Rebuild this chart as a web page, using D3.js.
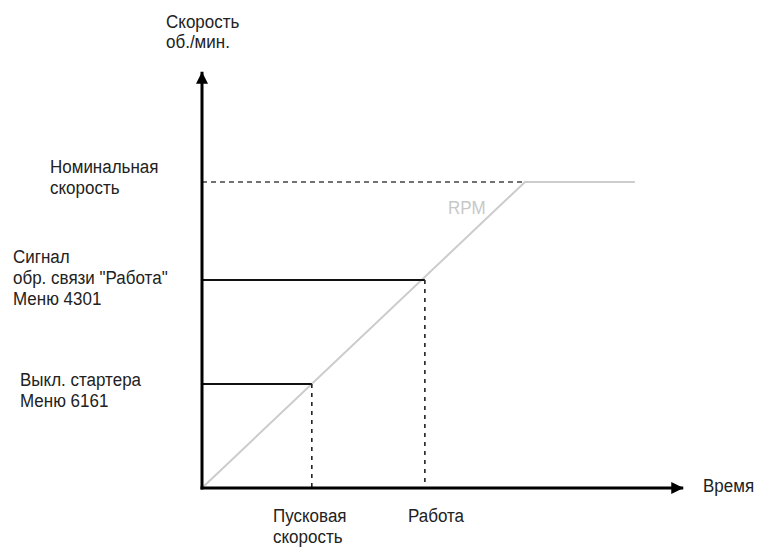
<!DOCTYPE html>
<html><head><meta charset="utf-8">
<script src="https://cdn.jsdelivr.net/npm/d3@7"></script>
<style>body{margin:0;background:#fff}svg{display:block}text{font-family:"Liberation Sans",Arial,sans-serif;font-size:17px;fill:#222}</style>
</head><body>
<script>
// data (relative units: time, speed)
const rpmTime = [0, 100, 134];
const rpmSpeed = [0, 100, 100];
const nominalSpeed = 100;
const runSpeed = 68, runTime = 69;
const starterSpeed = 34, starterTime = 34;
const axisMaxTime = 149, axisMaxSpeed = 136;
const yAxisTitle = ["Скорость", "об./мин."];
const xAxisTitle = "Время";
const speedLabels = [
  {v: nominalSpeed, lines: ["Номинальная", "скорость"]},
  {v: runSpeed, lines: ["Сигнал", "обр. связи \"Работа\"", "Меню 4301"]},
  {v: starterSpeed, lines: ["Выкл. стартера", "Меню 6161"]}
];
const timeLabels = [
  {t: starterTime, lines: ["Пусковая", "скорость"]},
  {t: runTime, lines: ["Работа"]}
];
const seriesName = "RPM";

const W = 757, H = 547;
const svg = d3.select("body").append("svg").attr("width", W).attr("height", H);
const x = d3.scaleLinear().domain([0, 100]).range([202, 525]);
const y = d3.scaleLinear().domain([0, 100]).range([488, 182]);

function label(px, py, s) {
  return svg.append("text").attr("transform", `translate(${px},${py}) scale(1,1.12)`).text(s);
}

// RPM line
const line = d3.line().x((d,i)=>x(rpmTime[i])).y((d,i)=>y(rpmSpeed[i]));
svg.append("path").datum(rpmTime).attr("d", line).attr("fill","none")
  .attr("stroke","#cccccc").attr("stroke-width",2);

// nominal dashed
svg.append("line").attr("x1",x(0)).attr("x2",x(100)).attr("y1",y(nominalSpeed)).attr("y2",y(nominalSpeed))
  .attr("stroke","#444").attr("stroke-width",1.3).attr("stroke-dasharray","5,4");

// levels solid + verticals dashed
[[runTime, runSpeed],[starterTime, starterSpeed]].forEach(([t,v])=>{
  svg.append("line").attr("x1",x(0)).attr("x2",x(t)).attr("y1",y(v)).attr("y2",y(v))
    .attr("stroke","#111").attr("stroke-width",2);
  svg.append("line").attr("x1",x(t)).attr("x2",x(t)).attr("y1",y(v)).attr("y2",y(0))
    .attr("stroke","#222").attr("stroke-width",1.6).attr("stroke-dasharray","4,5");
});

// RPM label
label(448, 214, seriesName)
  .style("fill","#c8c8c8").attr("stroke","#fff").attr("stroke-width",4).attr("paint-order","stroke");

// axes with arrows
const defs = svg.append("defs");
defs.append("marker").attr("id","arr").attr("viewBox","0 0 10 10").attr("refX",10).attr("refY",5)
  .attr("markerWidth",12).attr("markerHeight",12).attr("markerUnits","userSpaceOnUse").attr("orient","auto")
  .append("path").attr("d","M0,0 L10,5 L0,10 z").attr("fill","#000");
svg.append("line").attr("x1",x(0)).attr("y1",y(0)+1.5).attr("x2",x(0)).attr("y2",y(axisMaxSpeed))
  .attr("stroke","#000").attr("stroke-width",3).attr("marker-end","url(#arr)");
svg.append("line").attr("x1",x(0)-1.5).attr("y1",y(0)).attr("x2",x(axisMaxTime)).attr("y2",y(0))
  .attr("stroke","#000").attr("stroke-width",3).attr("marker-end","url(#arr)");

// titles
yAxisTitle.forEach((s,i)=>label(166, 28+i*20, s));
label(703, 492, xAxisTitle);

// speed labels
const speedPos = [{x:50,y:173},{x:13,y:263},{x:20,y:386}];
speedLabels.forEach((d,i)=>d.lines.forEach((s,j)=>label(speedPos[i].x, speedPos[i].y+j*21, s)));
const timePos = [{x:273,y:522},{x:408,y:522}];
timeLabels.forEach((d,i)=>d.lines.forEach((s,j)=>label(timePos[i].x, timePos[i].y+j*21, s)));
</script>
</body></html>
